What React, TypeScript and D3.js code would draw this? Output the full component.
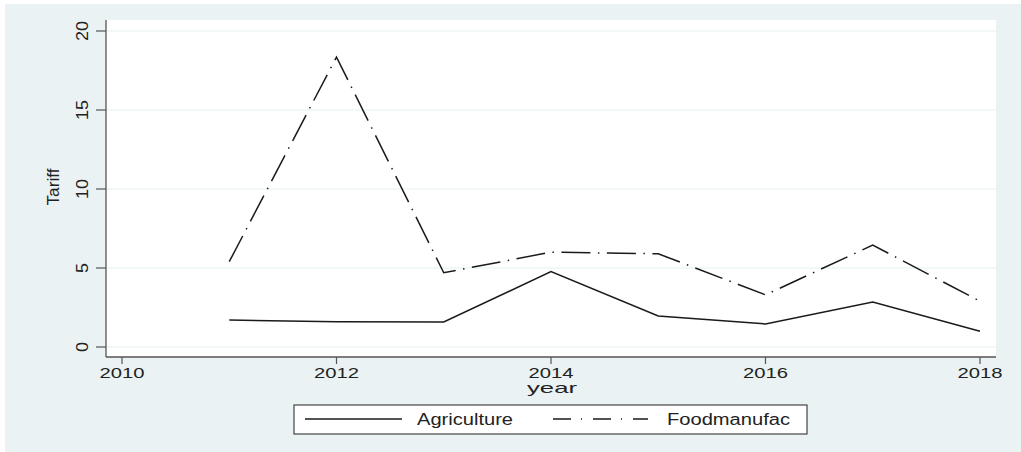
import React from "react";
import * as d3 from "d3";

const years = [2011, 2012, 2013, 2014, 2015, 2016, 2017, 2018];
const agriculture = [1.71, 1.6, 1.58, 4.77, 1.96, 1.46, 2.85, 1.0];
const foodmanufac = [5.4, 18.35, 4.7, 6.0, 5.9, 3.3, 6.45, 2.9];
const xTicks = [2010, 2012, 2014, 2016, 2018];
const yTicks = [0, 5, 10, 15, 20];
const seriesNames = ["Agriculture", "Foodmanufac"];

const W = 1021;
const H = 452;
const FONT = "'Liberation Sans', Arial, Helvetica, sans-serif";
const DASH = "29 7.5 1.5 7.5";

export default function App() {
  const x = d3.scaleLinear().domain([2010, 2018]).range([122, 980]);
  const y = d3.scaleLinear().domain([0, 20]).range([347, 31]);
  const line = d3
    .line<number>()
    .x((_, i) => x(years[i]))
    .y((d) => y(d));

  const plotL = 106, plotR = 996, plotT = 20, plotB = 357;

  return (
    <svg
      width={W}
      height={H}
      style={{ position: "absolute", left: 0, top: 0, background: "#fff" }}
      fontFamily={FONT}
    >
      <rect x={5} y={4} width={W - 5} height={H - 4} fill="#eaf2f3" />
      <rect x={plotL} y={plotT} width={plotR - plotL} height={plotB - plotT} fill="#fff" />
      {yTicks.map((t) => (
        <line key={"g" + t} x1={plotL} x2={plotR} y1={y(t)} y2={y(t)} stroke="#e6eff1" strokeWidth={1.2} />
      ))}
      <path d={line(agriculture) || ""} fill="none" stroke="#1a1a1a" strokeWidth={1.5} />
      <path d={line(foodmanufac) || ""} fill="none" stroke="#1a1a1a" strokeWidth={1.5} strokeDasharray={DASH} />
      <line x1={plotL} x2={plotL} y1={plotT} y2={plotB} stroke="#555" strokeWidth={1.3} />
      <line x1={plotL} x2={plotR} y1={plotB} y2={plotB} stroke="#555" strokeWidth={1.3} />
      {yTicks.map((t) => (
        <g key={"y" + t}>
          <line x1={96} x2={plotL} y1={y(t)} y2={y(t)} stroke="#555" strokeWidth={1.2} />
          <text
            transform={`translate(88,${y(t)}) rotate(-90)`}
            textAnchor="middle"
            fontSize={16}
            fill="#222"
            textLength={String(t).length * 10}
            lengthAdjust="spacingAndGlyphs"
          >
            {t}
          </text>
        </g>
      ))}
      {xTicks.map((t) => (
        <g key={"x" + t}>
          <line x1={x(t)} x2={x(t)} y1={plotB} y2={364} stroke="#555" strokeWidth={1.2} />
          <text
            x={x(t)}
            y={378}
            textAnchor="middle"
            fontSize={14}
            fill="#222"
            textLength={45}
            lengthAdjust="spacingAndGlyphs"
          >
            {t}
          </text>
        </g>
      ))}
      <text
        transform={`translate(59,187) rotate(-90)`}
        textAnchor="middle"
        fontSize={16}
        fill="#222"
        textLength={37}
        lengthAdjust="spacingAndGlyphs"
      >
        Tariff
      </text>
      <text x={552} y={393} textAnchor="middle" fontSize={15} fill="#222" textLength={50} lengthAdjust="spacingAndGlyphs">
        year
      </text>
      <rect x={294} y={405} width={513} height={29} fill="#fff" stroke="#444" strokeWidth={1.2} />
      <line x1={305} x2={402} y1={419} y2={419} stroke="#1a1a1a" strokeWidth={1.5} />
      <text x={417} y={425} fontSize={16} fill="#222" textLength={96} lengthAdjust="spacingAndGlyphs">
        {seriesNames[0]}
      </text>
      <line x1={553} x2={648} y1={419} y2={419} stroke="#1a1a1a" strokeWidth={1.5} strokeDasharray="18 10 1 11" />
      <text x={667} y={425} fontSize={16} fill="#222" textLength={123} lengthAdjust="spacingAndGlyphs">
        {seriesNames[1]}
      </text>
    </svg>
  );
}
